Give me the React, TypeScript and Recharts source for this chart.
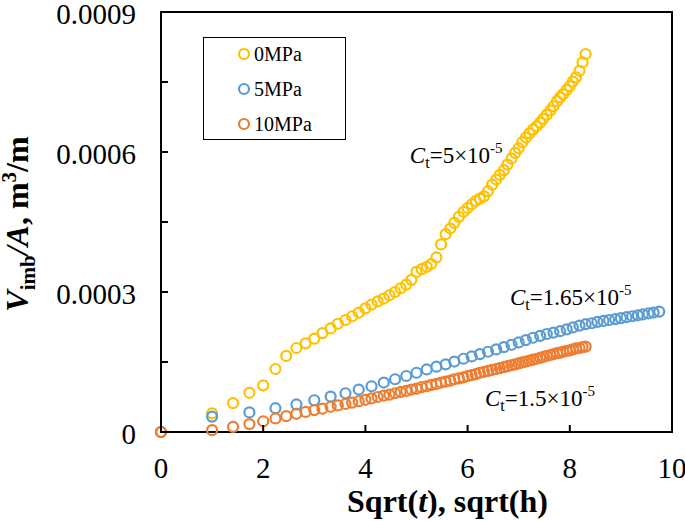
import React from 'react';
import {
    ScatterChart,
    Scatter,
    XAxis,
    YAxis,
    Legend,
    ReferenceArea,
    ReferenceDot,
} from 'recharts';

// sqrt(t) of the hourly readings (0MPa and 10MPa)
const SQRT_T_HOURLY = [
    0, 1, 1.41, 1.73, 2, 2.24, 2.45, 2.65, 2.83, 3,
    3.16, 3.32, 3.46, 3.61, 3.74, 3.87, 4, 4.12, 4.24, 4.36,
    4.47, 4.58, 4.69, 4.8, 4.9, 5, 5.1, 5.2, 5.29, 5.39,
    5.48, 5.57, 5.66, 5.74, 5.83, 5.92, 6, 6.08, 6.16, 6.24,
    6.32, 6.4, 6.48, 6.56, 6.63, 6.71, 6.78, 6.86, 6.93, 7,
    7.07, 7.14, 7.21, 7.28, 7.35, 7.42, 7.48, 7.55, 7.62, 7.68,
    7.75, 7.81, 7.87, 7.94, 8, 8.06, 8.12, 8.19, 8.25, 8.31,
];

// sqrt(t) of the 5MPa readings (every other hour)
const SQRT_T_5MPA = [
    0, 1, 1.73, 2.24, 2.65, 3, 3.32, 3.61, 3.87, 4.12,
    4.36, 4.58, 4.8, 5, 5.2, 5.39, 5.57, 5.74, 5.92, 6.08,
    6.24, 6.4, 6.56, 6.71, 6.86, 7, 7.14, 7.28, 7.42, 7.55,
    7.68, 7.81, 7.94, 8.06, 8.19, 8.31, 8.43, 8.54, 8.66, 8.77,
    8.89, 9, 9.11, 9.22, 9.33, 9.43, 9.54, 9.64, 9.75,
];

const V_0MPA = [
    0, 0.00004, 0.000062, 0.000084, 0.0001, 0.000135, 0.000163, 0.00018, 0.00019, 0.0002,
    0.000212, 0.000222, 0.000232, 0.00024, 0.000248, 0.000256, 0.000265, 0.000273, 0.00028, 0.000286,
    0.000293, 0.0003, 0.000308, 0.000316, 0.000326, 0.000343, 0.000349, 0.000354, 0.00036, 0.000374,
    0.000402, 0.000424, 0.000436, 0.000448, 0.000461, 0.000472, 0.00048, 0.000488, 0.000495, 0.0005,
    0.000505, 0.000516, 0.00053, 0.000541, 0.000551, 0.000561, 0.000573, 0.000586, 0.000598, 0.000608,
    0.000621, 0.000631, 0.00064, 0.000648, 0.000655, 0.000663, 0.000671, 0.00068, 0.000689, 0.000698,
    0.000709, 0.000717, 0.000724, 0.000733, 0.000741, 0.000751, 0.00076, 0.000774, 0.000792, 0.00081,
];

const V_5MPA = [
    0, 0.000033, 0.000042, 0.000051, 0.000059, 0.000068, 0.000076, 0.000083, 0.000091, 0.000098,
    0.000106, 0.000113, 0.00012, 0.000127, 0.000134, 0.00014, 0.000145, 0.000151, 0.000157, 0.000162,
    0.000167, 0.000172, 0.000177, 0.000182, 0.000187, 0.000192, 0.000197, 0.000202, 0.000206, 0.00021,
    0.000213, 0.000216, 0.00022, 0.000224, 0.000228, 0.000231, 0.000233, 0.000236, 0.000238, 0.00024,
    0.000242, 0.000244, 0.000246, 0.000248, 0.00025, 0.000252, 0.000254, 0.000256, 0.000258,
];

const V_10MPA = [
    0, 0.000004, 0.000011, 0.000017, 0.000023, 0.000029, 0.000034, 0.000039, 0.000043, 0.000047,
    0.00005, 0.000054, 0.000057, 0.00006, 0.000063, 0.000066, 0.000069, 0.000072, 0.000075, 0.000078,
    0.00008, 0.000083, 0.000086, 0.000088, 0.000091, 0.000093, 0.000096, 0.000098, 0.000101, 0.000103,
    0.000106, 0.000108, 0.00011, 0.000113, 0.000115, 0.000117, 0.00012, 0.000122, 0.000124, 0.000127,
    0.000129, 0.000131, 0.000133, 0.000135, 0.000137, 0.000139, 0.000141, 0.000143, 0.000145, 0.000147,
    0.000149, 0.000151, 0.000153, 0.000155, 0.000157, 0.000159, 0.000161, 0.000163, 0.000165, 0.000167,
    0.000169, 0.00017, 0.000172, 0.000174, 0.000175, 0.000177, 0.000179, 0.00018, 0.000182, 0.000183,
];

const X_TICKS = [0, 2, 4, 6, 8, 10];
const X_TICK_LABELS = ['0', '2', '4', '6', '8', '10'];
const Y_TICKS = [0, 0.00015, 0.0003, 0.00045, 0.0006, 0.00075, 0.0009];
const Y_TICK_LABELS = ['0', '', '0.0003', '', '0.0006', '', '0.0009'];

const SERIES_NAMES = ['0MPa', '5MPa', '10MPa'];
const SERIES_COLORS = ['#FFC000', '#5B9BD5', '#ED7D31'];

const FONT = "'Liberation Serif', 'Times New Roman', serif";

const toPoints = (xs: number[], ys: number[]) => xs.map((x, i) => ({ x, y: ys[i] }));
const SERIES_DATA = [
    toPoints(SQRT_T_HOURLY, V_0MPA),
    toPoints(SQRT_T_5MPA, V_5MPA),
    toPoints(SQRT_T_HOURLY, V_10MPA),
];

const ring = (color: string) => (props: any) => (
    <circle cx={props.cx} cy={props.cy} r={5} fill="none" stroke={color} strokeWidth={2.2} />
);

const YTick = (props: any) => {
    const { x, y, index } = props;
    return (
        <g>
            <line x1={x} x2={x + 7} y1={y} y2={y} stroke="#000" strokeWidth={2} />
            <text x={x - 25} y={y + 12} textAnchor="end" fontFamily={FONT} fontSize={29} fill="#000">
                {Y_TICK_LABELS[index]}
            </text>
        </g>
    );
};

const XTick = (props: any) => {
    const { x, y, index } = props;
    return (
        <g>
            <line x1={x} x2={x} y1={y} y2={y - 7} stroke="#000" strokeWidth={2} />
            <text x={x} y={y + 46} textAnchor="middle" fontFamily={FONT} fontSize={29} fill="#000">
                {X_TICK_LABELS[index]}
            </text>
        </g>
    );
};

const XTitle = (props: any) => {
    const vb = props.viewBox;
    return (
        <text x={vb.x + vb.width / 2 + 31} y={vb.y + 80} textAnchor="middle" fontFamily={FONT} fontSize={32} fontWeight="bold" fill="#000">
            Sqrt(<tspan fontStyle="italic">t</tspan>), sqrt(h)
        </text>
    );
};

const YTitle = (props: any) => {
    const vb = props.viewBox;
    const cx = vb.x + 28;
    const cy = vb.y + vb.height / 2 + 2;
    return (
        <text x={cx} y={cy} transform={`rotate(-90 ${cx} ${cy})`} textAnchor="middle" fontFamily={FONT} fontSize={32} fontWeight="bold" fill="#000">
            <tspan fontStyle="italic">V</tspan>
            <tspan fontSize={21} dy={7}>imb</tspan>
            <tspan dy={-7} fontStyle="italic">/A</tspan>
            <tspan>, m</tspan>
            <tspan fontSize={21} dy={-12}>3</tspan>
            <tspan dy={12}>/m</tspan>
        </text>
    );
};

const ctNote = (value: string) => (props: any) => {
    const vb = props.viewBox;
    const x = vb.x + vb.width / 2;
    const y = vb.y + vb.height / 2;
    return (
        <text x={x} y={y} fontFamily={FONT} fontSize={23} fill="#000">
            <tspan fontStyle="italic">C</tspan>
            <tspan fontSize={16} dy={5}>t</tspan>
            <tspan dy={-5}>={value}×10</tspan>
            <tspan fontSize={15} dy={-10}>-5</tspan>
        </text>
    );
};

const LegendBox = () => (
    <div
        style={{
            position: 'relative',
            width: 143,
            height: 103,
            boxSizing: 'border-box',
            border: '1.5px solid #000',
            background: '#fff',
            fontFamily: FONT,
            fontSize: 20,
            color: '#000',
        }}
    >
        {SERIES_NAMES.map((name, i) => (
            <div key={name} style={{ position: 'absolute', left: 33, top: 4 + i * 35, height: 24, lineHeight: '24px', display: 'flex', alignItems: 'center' }}>
                <svg width={14} height={14} style={{ marginRight: 3 }}>
                    <circle cx={7} cy={7} r={5} fill="none" stroke={SERIES_COLORS[i]} strokeWidth={2.2} />
                </svg>
                <span>{name}</span>
            </div>
        ))}
    </div>
);

export default function App() {
    return (
        <div style={{ width: 685, height: 521, background: '#fff' }}>
            <style>{'body{margin:0}'}</style>
            <ScatterChart width={685} height={521} margin={{ top: 12, right: 13, bottom: 0, left: 0 }}>
                <XAxis
                    type="number"
                    dataKey="x"
                    domain={[0, 10]}
                    ticks={X_TICKS}
                    interval={0}
                    height={89}
                    tickSize={0}
                    tickMargin={0}
                    tickLine={false}
                    axisLine={{ stroke: '#000', strokeWidth: 2 }}
                    tick={(p: any) => <XTick {...p} />}
                    label={(p: any) => <XTitle {...p} />}
                />
                <YAxis
                    type="number"
                    dataKey="y"
                    domain={[0, 0.0009]}
                    ticks={Y_TICKS}
                    interval={0}
                    width={161}
                    tickSize={0}
                    tickMargin={0}
                    tickLine={false}
                    axisLine={{ stroke: '#000', strokeWidth: 2 }}
                    tick={(p: any) => <YTick {...p} />}
                    label={(p: any) => <YTitle {...p} />}
                />
                <ReferenceArea x1={0} x2={10} y1={0} y2={0.0009} fill="none" stroke="#000" strokeWidth={2} />
                {SERIES_NAMES.map((name, i) => (
                    <Scatter
                        key={name}
                        name={name}
                        data={SERIES_DATA[i]}
                        fill={SERIES_COLORS[i]}
                        shape={ring(SERIES_COLORS[i])}
                        isAnimationActive={false}
                    />
                ))}
                <ReferenceDot x={4.87} y={0.000576} r={1} fill="none" stroke="none" label={ctNote('5')} />
                <ReferenceDot x={6.83} y={0.000272} r={1} fill="none" stroke="none" label={ctNote('1.65')} />
                <ReferenceDot x={6.34} y={0.0000557} r={1} fill="none" stroke="none" label={ctNote('1.5')} />
                <Legend
                    layout="vertical"
                    align="center"
                    verticalAlign="middle"
                    content={() => <LegendBox />}
                    wrapperStyle={{ left: 203, top: 37, width: 143, height: 103 }}
                />
            </ScatterChart>
        </div>
    );
}
